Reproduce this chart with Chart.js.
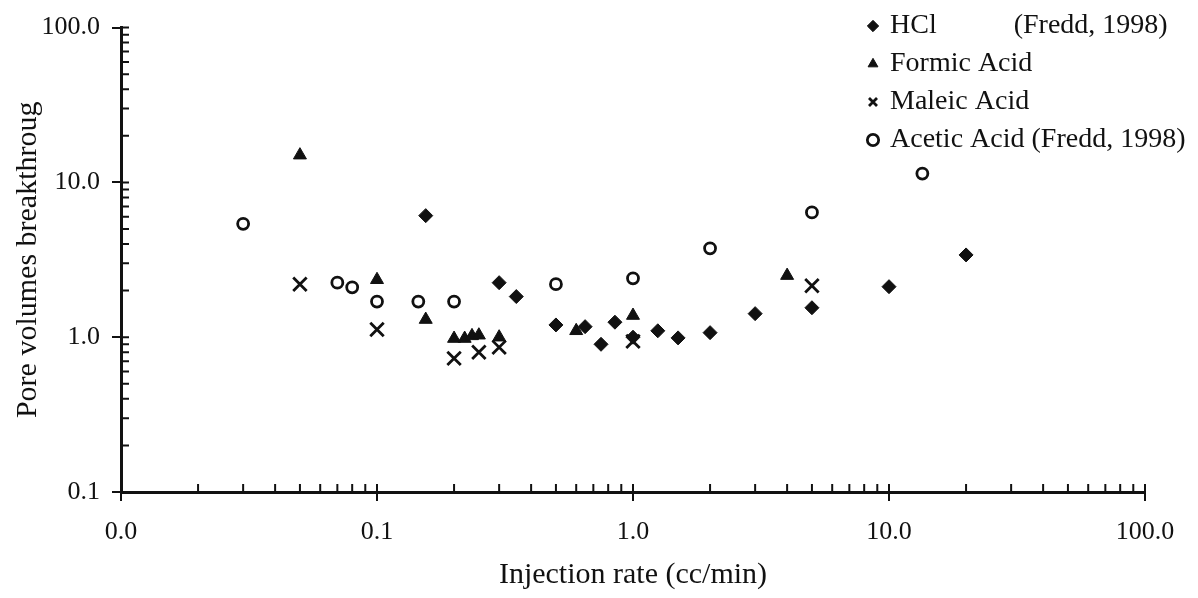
<!DOCTYPE html>
<html>
<head>
<meta charset="utf-8">
<script src="https://cdn.jsdelivr.net/npm/chart.js@4/dist/chart.umd.min.js"></script>
<style>
  html, body { margin: 0; padding: 0; background: #fff; }
  #wrap { width: 1198px; height: 598px; }
</style>
</head>
<body>
<div id="wrap"><canvas id="poreChart" width="1198" height="598"></canvas></div>
<script>
// data (x = injection rate cc/min, y = PV to breakthrough)
const seriesNames = ['HCl\u00a0\u00a0\u00a0\u00a0\u00a0\u00a0\u00a0\u00a0\u00a0\u00a0\u00a0(Fredd, 1998)', 'Formic Acid', 'Maleic Acid', 'Acetic Acid (Fredd, 1998)'];

const hclX = [0.155, 0.3, 0.35, 0.5, 0.65, 0.75, 0.85, 1.0, 1.25, 1.5, 2.0, 3.0, 5.0, 10, 20];
const hclY = [6.1, 2.25, 1.83, 1.2, 1.17, 0.9, 1.25, 1.0, 1.1, 0.99, 1.07, 1.42, 1.55, 2.12, 3.4];

const formicX = [0.05, 0.1, 0.155, 0.2, 0.22, 0.235, 0.25, 0.3, 0.6, 1.0, 4.0];
const formicY = [15, 2.35, 1.3, 0.98, 0.98, 1.02, 1.03, 1.0, 1.1, 1.38, 2.5];

const maleicX = [0.05, 0.1, 0.2, 0.25, 0.3, 1.0, 5.0];
const maleicY = [2.2, 1.12, 0.73, 0.8, 0.86, 0.94, 2.15];

const aceticX = [0.03, 0.07, 0.08, 0.1, 0.145, 0.2, 0.5, 1.0, 2.0, 5.0, 13.5];
const aceticY = [5.4, 2.25, 2.1, 1.7, 1.7, 1.7, 2.2, 2.4, 3.75, 6.4, 11.4];

const xRange = [0.01, 100];
const yRange = [0.1, 100];
const xTitle = 'Injection rate (cc/min)';
const yTitle = 'Pore volumes breakthroug';

(function () {
  const FONT = "'Liberation Serif', 'Times New Roman', serif";
  const INK = '#111';

  function pairs(xs, ys) {
    return xs.map(function (x, i) { return { x: x, y: ys[i] }; });
  }

  function isDecade(v) {
    const l = Math.log10(v);
    return Math.abs(l - Math.round(l)) < 1e-9;
  }

  // short inward ticks at every 1..9 x 10^k, like the original axes
  const innerTicks = {
    id: 'innerTicks',
    afterDraw(chart) {
      const ctx = chart.ctx;
      const xs = chart.scales.x;
      const ys = chart.scales.y;
      const area = chart.chartArea;
      ctx.save();
      ctx.strokeStyle = INK;
      ctx.lineWidth = 2;
      ctx.beginPath();
      for (let k = -2; k <= 2; k++) {
        for (let m = 1; m <= 9; m++) {
          const v = m * Math.pow(10, k);
          if (v >= xRange[0] && v <= xRange[1]) {
            const px = xs.getPixelForValue(v);
            ctx.moveTo(px, area.bottom);
            ctx.lineTo(px, area.bottom - 8);
          }
          if (v >= yRange[0] && v <= yRange[1]) {
            const py = ys.getPixelForValue(v);
            ctx.moveTo(area.left, py);
            ctx.lineTo(area.left + 8, py);
          }
        }
      }
      ctx.stroke();
      ctx.restore();
    }
  };

  // put the legend in the top right corner, spilling past the plot like the scan
  const legendSpot = {
    id: 'legendSpot',
    afterLayout(chart) {
      const lg = chart.legend;
      if (!lg) return;
      lg.left = 860;
      lg.right = lg.left + lg.width;
      lg.top = 2;
      lg.bottom = lg.top + lg.height;
    }
  };

  const ctx = document.getElementById('poreChart').getContext('2d');
  new Chart(ctx, {
    type: 'scatter',
    data: {
      datasets: [
        {
          label: seriesNames[0],
          data: pairs(hclX, hclY),
          pointStyle: 'rectRot',
          pointRadius: 7,
          backgroundColor: INK,
          borderColor: INK,
          borderWidth: 1
        },
        {
          label: seriesNames[1],
          data: pairs(formicX, formicY),
          pointStyle: 'triangle',
          pointRadius: 7.5,
          backgroundColor: INK,
          borderColor: INK,
          borderWidth: 1
        },
        {
          label: seriesNames[2],
          data: pairs(maleicX, maleicY),
          pointStyle: 'crossRot',
          pointRadius: 9.5,
          backgroundColor: INK,
          borderColor: INK,
          borderWidth: 2.8
        },
        {
          label: seriesNames[3],
          data: pairs(aceticX, aceticY),
          pointStyle: 'circle',
          pointRadius: 5.5,
          backgroundColor: '#fff',
          borderColor: INK,
          borderWidth: 2.8
        }
      ]
    },
    options: {
      responsive: false,
      animation: false,
      layout: { padding: { left: 0, top: 27, right: 53, bottom: 0 } },
      scales: {
        x: {
          type: 'logarithmic',
          min: xRange[0],
          max: xRange[1],
          afterBuildTicks: function (s) { s.ticks = s.ticks.filter(function (t) { return isDecade(t.value); }); },
          afterFit: function (s) { s.height = 106; },
          border: { color: INK, width: 3 },
          grid: { drawOnChartArea: false, drawTicks: true, tickLength: 9, color: INK, lineWidth: 2 },
          ticks: {
            autoSkip: false,
            maxRotation: 0,
            padding: 16,
            color: INK,
            font: { family: FONT, size: 26 },
            callback: function (v) { return Number(v).toFixed(1); }
          },
          title: {
            display: true,
            text: xTitle,
            color: INK,
            font: { family: FONT, size: 30 },
            padding: { top: 0, bottom: 5 }
          }
        },
        y: {
          type: 'logarithmic',
          min: yRange[0],
          max: yRange[1],
          afterBuildTicks: function (s) { s.ticks = s.ticks.filter(function (t) { return isDecade(t.value); }); },
          afterFit: function (s) { s.width = 121; },
          border: { color: INK, width: 3 },
          grid: { drawOnChartArea: false, drawTicks: true, tickLength: 9, color: INK, lineWidth: 2 },
          ticks: {
            autoSkip: false,
            padding: 12,
            color: INK,
            font: { family: FONT, size: 26 },
            callback: function (v) { return Number(v).toFixed(1); }
          },
          title: {
            display: true,
            text: yTitle,
            color: INK,
            font: { family: FONT, size: 30 },
            padding: { top: 10, bottom: 0 }
          }
        }
      },
      plugins: {
        legend: {
          position: 'chartArea',
          align: 'start',
          labels: {
            usePointStyle: true,
            boxWidth: 6,
            boxHeight: 8,
            padding: 10,
            color: INK,
            font: { family: FONT, size: 28 }
          }
        },
        tooltip: { enabled: false }
      }
    },
    plugins: [innerTicks, legendSpot]
  });
})();
</script>
</body>
</html>
